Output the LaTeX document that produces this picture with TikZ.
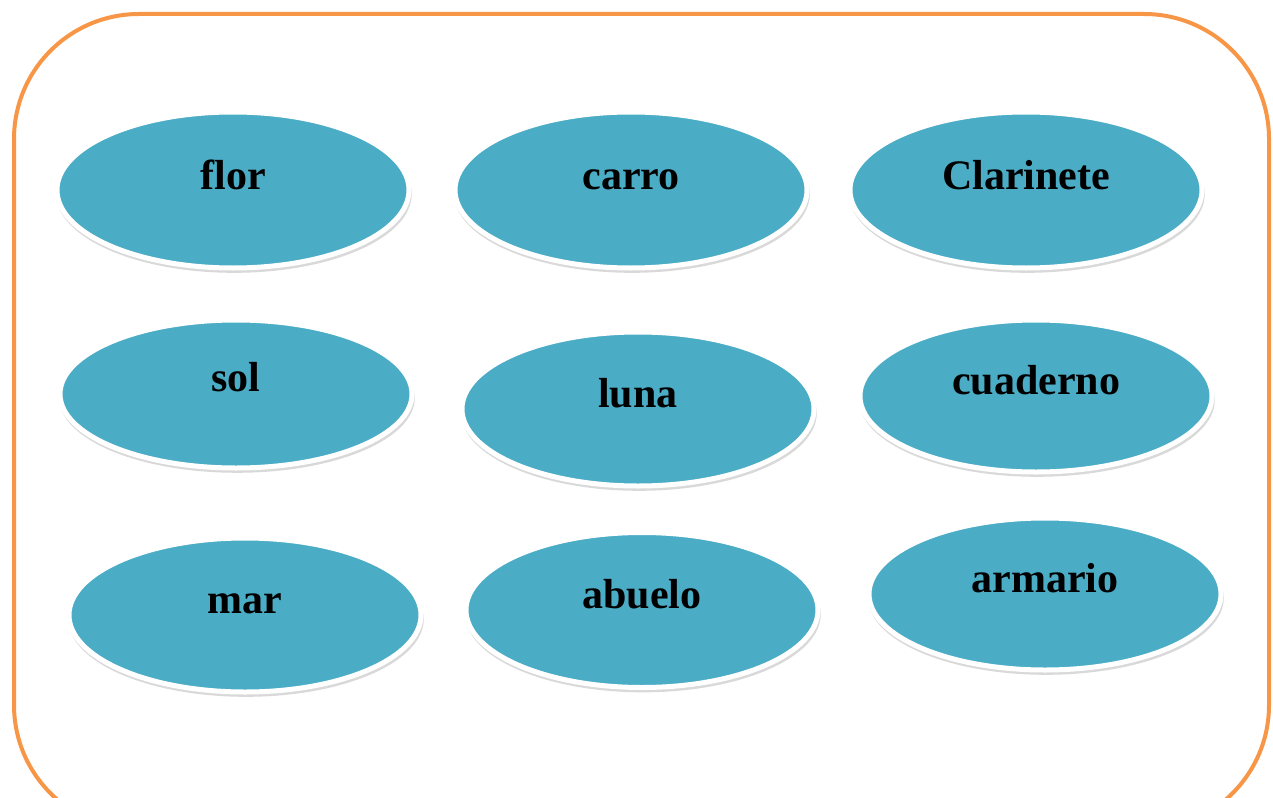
\documentclass[tikz,border=0pt]{standalone}
\usepackage{fontspec}
\setmainfont{Liberation Serif}
\usetikzlibrary{shapes.geometric,shadows}

\definecolor{cardblue}{HTML}{4BACC6}
\definecolor{frameorange}{HTML}{F79646}

\tikzset{
  card/.style={ellipse, fill=cardblue, draw=white, line width=5pt,
    minimum width=352pt, minimum height=156pt, inner sep=0pt,
    drop shadow={opacity=0.3, shadow xshift=1pt, shadow yshift=-4pt, shadow scale=1.01}},
  word/.style={font=\fontsize{42}{48}\selectfont\bfseries, text=black, anchor=base}
}

\begin{document}
\begin{tikzpicture}[x=1pt, y=-1pt]
  \useasboundingbox (0,0) rectangle (1273,797);
  \clip (0,0) rectangle (1273,797);
  \draw[frameorange, line width=4pt, rounded corners=125pt] (14,14) rectangle (1269,830);

  % first row
  \node[card] (flor) at (233,190) {};
  \node[word] (florw) at (233,189) {flor};
  \node[card] (carro) at (631,190) {};
  \node[word] (carrow) at (631,189) {carro};
  \node[card] (clar) at (1026,190) {};
  \node[word] (clarw) at (1026,189) {Clarinete};

  % second row
  \node[card, minimum height=148pt] (sol) at (236,394) {};
  \node[word] (solw) at (236,391) {sol};
  \node[card, minimum height=154pt] (luna) at (638,409) {};
  \node[word] (lunaw) at (638,407) {luna};
  \node[card, minimum height=152pt] (cuad) at (1036,396) {};
  \node[word] (cuadw) at (1036,394) {cuaderno};

  % third row
  \node[card, minimum height=154pt] (mar) at (245,615) {};
  \node[word] (marw) at (245,613) {mar};
  \node[card, minimum height=155pt] (abuelo) at (642,610) {};
  \node[word] (abuelow) at (642,608) {abuelo};
  \node[card, minimum height=152pt] (armario) at (1045,594) {};
  \node[word] (armariow) at (1045,592) {armario};
\end{tikzpicture}
\end{document}
